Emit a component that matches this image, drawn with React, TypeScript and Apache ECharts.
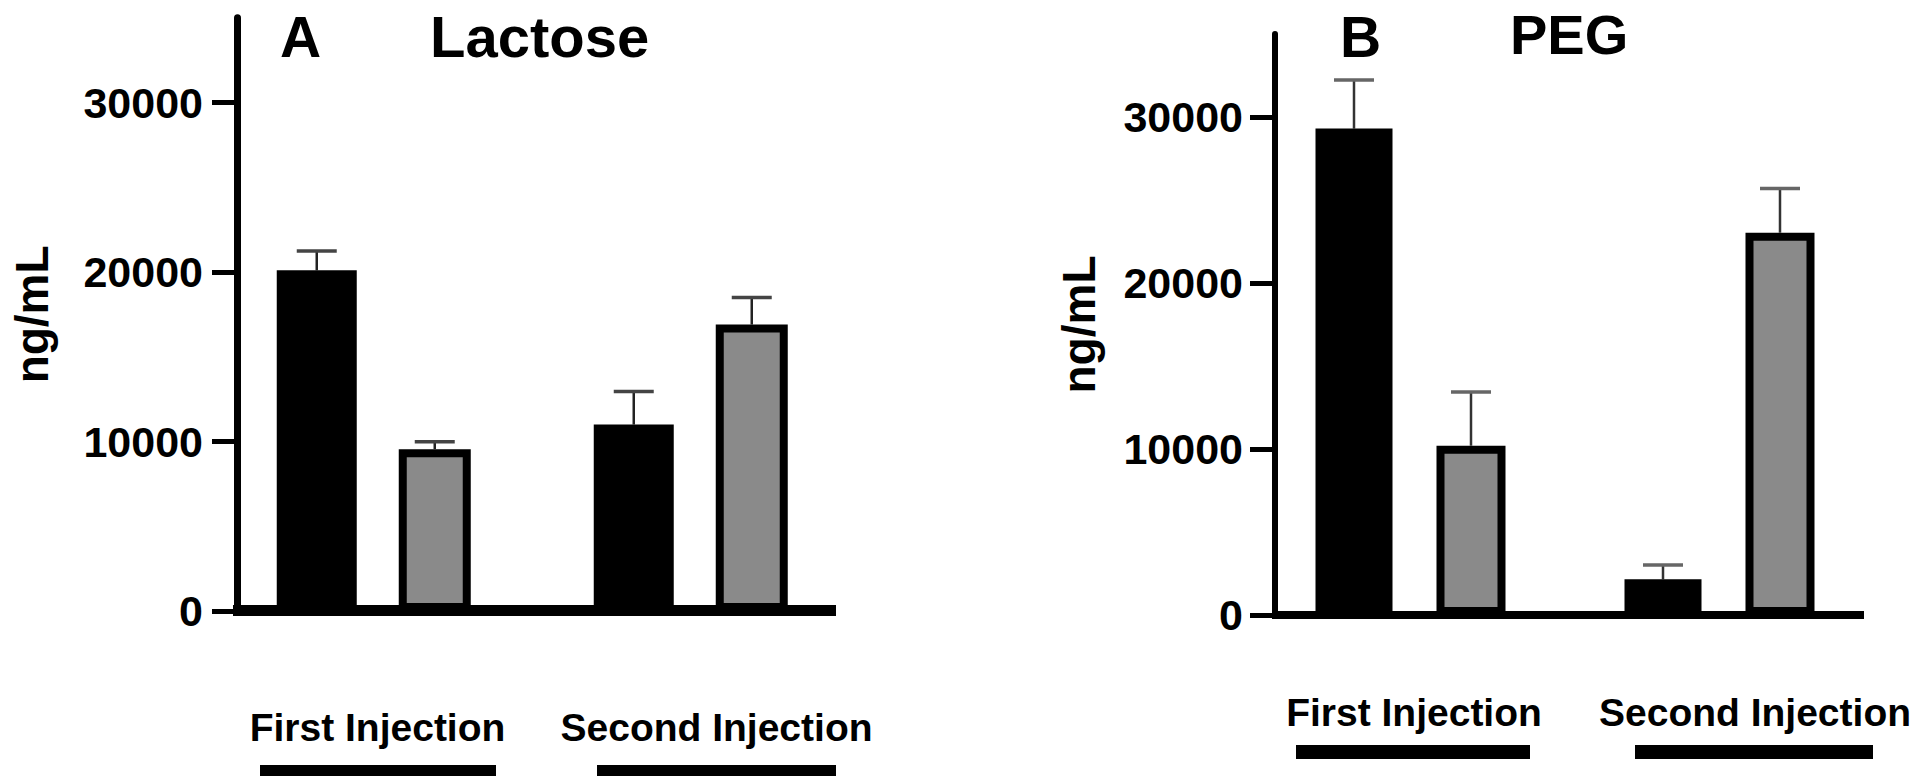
import React, { useEffect, useRef } from 'react';
import * as echarts from 'echarts';

// ---- data ----
const groups = ['First Injection', 'Second Injection'];
const yTicks = [0, 10000, 20000, 30000];
const yMax = 35000;
const panelLetters = ['A', 'B'];
const panelTitles = ['Lactose', 'PEG'];
const yName = 'ng/mL';

const lactoseBlack = [20100, 11000];
const lactoseBlackErr = [1140, 1950];
const lactoseGray = [9550, 16900];
const lactoseGrayErr = [440, 1590];

const pegBlack = [29300, 2150];
const pegBlackErr = [2930, 860];
const pegGray = [10200, 23030];
const pegGrayErr = [3230, 2660];

// ---- layout ----
const FONT = "'Liberation Sans', Arial, Helvetica, sans-serif";

const panels = [
  {
    gridLeft: 215.25, gridWidth: 634, gridTop: 17.75, gridHeight: 593.25,
    axisX: 237, axisLineWidth: 7, labelMargin: 34, nameGap: 182,
    blackWidth: 80, grayWidth: 72, barGap: '52.5%', blackOffset: -57, grayOffset: 61,
    base: { x: 233, y: 605, w: 603, h: 11 },
    labelY: 727, labelCenters: [377.5, 716.5],
    under: { y: 765, h: 11, spans: [[260, 496], [597, 836]] },
    letter: { x: 280, y: 8, size: 57 }, title: { x: 430, y: 36.5, size: 58 },
    black: lactoseBlack, blackErr: lactoseBlackErr, gray: lactoseGray, grayErr: lactoseGrayErr,
    errColor: '#222', capColor: '#444',
  },
  {
    gridLeft: 1256, gridWidth: 618, gridTop: 34, gridHeight: 581,
    axisX: 1275, axisLineWidth: 6, labelMargin: 32, nameGap: 173,
    blackWidth: 77, grayWidth: 69, barGap: '57.14%', blackOffset: -56.5, grayOffset: 60.5,
    base: { x: 1272, y: 611, w: 592, h: 8 },
    labelY: 712, labelCenters: [1414, 1755],
    under: { y: 745, h: 14, spans: [[1296, 1530], [1635, 1873]] },
    letter: { x: 1340, y: 8, size: 57 }, title: { x: 1510, y: 34, size: 56 },
    black: pegBlack, blackErr: pegBlackErr, gray: pegGray, grayErr: pegGrayErr,
    errColor: '#333', capColor: '#666',
  },
];

function errorSeries(idx: number, values: number[], errs: number[], offset: number, capHalf: number, stem: string, cap: string) {
  return {
    type: 'custom',
    xAxisIndex: idx,
    yAxisIndex: idx,
    z: 1,
    silent: true,
    data: values.map((v, i) => [i, v, v + errs[i]]),
    renderItem: (_params: any, api: any) => {
      const b = api.coord([api.value(0), api.value(1)]);
      const t = api.coord([api.value(0), api.value(2)]);
      const x = b[0] + offset;
      return {
        type: 'group',
        children: [
          { type: 'line', shape: { x1: x, y1: b[1], x2: x, y2: t[1] }, style: { stroke: stem, lineWidth: 2.5 } },
          { type: 'line', shape: { x1: x - capHalf, y1: t[1], x2: x + capHalf, y2: t[1] }, style: { stroke: cap, lineWidth: 3.5 } },
        ],
      };
    },
  };
}

export default function App() {
  const ref = useRef<HTMLDivElement>(null);

  useEffect(() => {
    if (!ref.current) return;
    const chart = echarts.init(ref.current, null, { renderer: 'svg' });

    const grid: any[] = [];
    const xAxis: any[] = [];
    const yAxis: any[] = [];
    const series: any[] = [];
    const graphic: any[] = [];

    panels.forEach((p, i) => {
      grid.push({
        left: p.gridLeft, top: p.gridTop, width: p.gridWidth, height: p.gridHeight,
        containLabel: false, outerBoundsMode: 'none',
      });
      xAxis.push({
        type: 'category', gridIndex: i, data: groups,
        axisLine: { show: false }, axisTick: { show: false }, axisLabel: { show: false },
        splitLine: { show: false },
      });
      yAxis.push({
        type: 'value', gridIndex: i, min: 0, max: yMax, interval: 10000,
        offset: p.gridLeft - p.axisX,
        name: yName, nameLocation: 'middle', nameRotate: 90, nameGap: p.nameGap,
        nameTextStyle: { fontFamily: FONT, fontWeight: 'bold', fontSize: 46, color: '#000' },
        axisLine: { show: true, lineStyle: { color: '#000', width: p.axisLineWidth } },
        axisTick: { show: true, length: 25, customValues: yTicks, lineStyle: { color: '#000', width: 5 } },
        axisLabel: {
          show: true, customValues: yTicks, margin: p.labelMargin,
          fontFamily: FONT, fontWeight: 'bold', fontSize: 43, color: '#000',
          formatter: (v: number) => String(v),
        },
        splitLine: { show: false },
      });
      series.push({
        type: 'bar', xAxisIndex: i, yAxisIndex: i, z: 3, silent: true,
        barWidth: p.blackWidth, barGap: p.barGap,
        data: p.black,
        itemStyle: { color: '#000' },
      });
      series.push({
        type: 'bar', xAxisIndex: i, yAxisIndex: i, z: 3, silent: true,
        barWidth: p.grayWidth, barGap: p.barGap,
        data: p.gray,
        itemStyle: { color: '#8a8a8a', borderColor: '#000', borderWidth: 8 },
      });
      series.push(errorSeries(i, p.black, p.blackErr, p.blackOffset, 20, p.errColor, p.capColor));
      series.push(errorSeries(i, p.gray, p.grayErr, p.grayOffset, 20, p.errColor, p.capColor));

      // x baseline
      graphic.push({
        type: 'rect', z: 10, shape: { x: p.base.x, y: p.base.y, width: p.base.w, height: p.base.h },
        style: { fill: '#000' }, silent: true,
      });
      // panel letter and title
      graphic.push({
        type: 'text', x: p.letter.x, y: p.letter.y, silent: true,
        style: { text: panelLetters[i], fill: '#000', fontFamily: FONT, fontWeight: 'bold', fontSize: p.letter.size, align: 'left', verticalAlign: 'top' },
      });
      graphic.push({
        type: 'text', x: p.title.x, y: p.title.y, silent: true,
        style: { text: panelTitles[i], fill: '#000', fontFamily: FONT, fontWeight: 'bold', fontSize: p.title.size, align: 'left', verticalAlign: 'middle' },
      });
      // group labels and underline bars
      groups.forEach((g, gi) => {
        graphic.push({
          type: 'text', x: p.labelCenters[gi], y: p.labelY, silent: true,
          style: { text: g, fill: '#000', fontFamily: FONT, fontWeight: 'bold', fontSize: 39, align: 'center', verticalAlign: 'middle' },
        });
        const s = p.under.spans[gi];
        graphic.push({
          type: 'rect', silent: true,
          shape: { x: s[0], y: p.under.y, width: s[1] - s[0], height: p.under.h },
          style: { fill: '#000' },
        });
      });
    });

    chart.setOption({
      animation: false,
      backgroundColor: '#fff',
      grid, xAxis, yAxis, series, graphic,
    });

    return () => chart.dispose();
  }, []);

  return (
    <div
      ref={ref}
      style={{ position: 'absolute', left: 0, top: 0, width: 1920, height: 782 }}
    />
  );
}
